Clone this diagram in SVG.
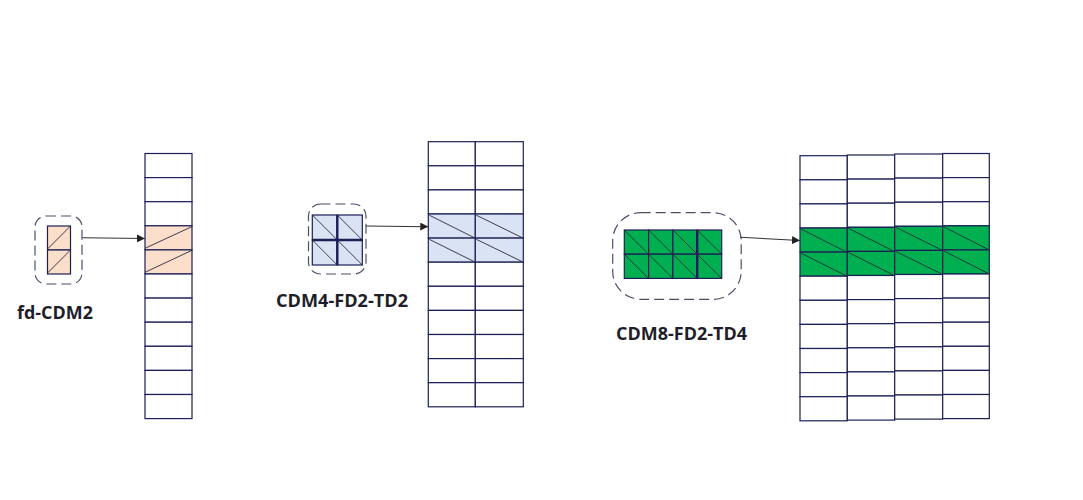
<svg xmlns="http://www.w3.org/2000/svg" width="1083" height="500" viewBox="0 0 1083 500">
<defs>
<style>
.cell{fill:#fff;stroke:#1c1f55;stroke-width:1.2}
.pink{fill:#fbdfcb;stroke:#1c1f55;stroke-width:1.2}
.blue{fill:#dae3f3;stroke:#1c1f55;stroke-width:1.2}
.green{fill:#00b050;stroke:#1c1f55;stroke-width:1.2}
.diag{stroke:#2a2a3a;stroke-width:0.9;fill:none}
.dash{fill:none;stroke:#4b5068;stroke-width:1.2;stroke-dasharray:10 5}
.conn{stroke:#333;stroke-width:1.1;fill:none}
.lbl{font-family:"Open Sans","Noto Sans",sans-serif;font-weight:bold;font-size:17.5px;fill:#1e1e2a}
.thick{stroke:#1c1f55;stroke-width:2.4;fill:none}
</style>
<marker id="arr" viewBox="0 0 10 10" refX="10" refY="5" markerWidth="8" markerHeight="8" markerUnits="userSpaceOnUse" orient="auto">
<path d="M0,0 L10,5 L0,10 z" fill="#222"/>
</marker>
</defs>
<rect width="1083" height="500" fill="#fff"/>

<!-- Node 1: fd-CDM2 small -->
<g id="node-fd-cdm2">
<rect class="dash" x="35" y="216" width="47" height="68" rx="11"/>
<rect class="pink" x="47.5" y="226" width="23" height="24"/>
<rect class="pink" x="47.5" y="250" width="23" height="24"/>
<line class="diag" x1="47.5" y1="249" x2="70.5" y2="226"/>
<line class="diag" x1="47.5" y1="273" x2="70.5" y2="250"/>
<text class="lbl" x="17" y="318.5" textLength="76" lengthAdjust="spacingAndGlyphs">fd-CDM2</text>
</g>

<!-- Column 1 -->
<g id="grid-1">
<rect class="cell" x="145" y="153.5" width="47" height="24.1"/>
<rect class="cell" x="145" y="177.6" width="47" height="24.1"/>
<rect class="cell" x="145" y="201.7" width="47" height="24.1"/>
<rect class="pink" x="145" y="225.8" width="47" height="24.1"/>
<rect class="pink" x="145" y="249.9" width="47" height="24.1"/>
<rect class="cell" x="145" y="274" width="47" height="24.1"/>
<rect class="cell" x="145" y="298.1" width="47" height="24.1"/>
<rect class="cell" x="145" y="322.2" width="47" height="24.1"/>
<rect class="cell" x="145" y="346.3" width="47" height="24.1"/>
<rect class="cell" x="145" y="370.4" width="47" height="24.1"/>
<rect class="cell" x="145" y="394.5" width="47" height="24.1"/>
<line class="diag" x1="145" y1="248.3" x2="192" y2="226.6"/>
<line class="diag" x1="145" y1="272.3" x2="192" y2="250.3"/>
</g>

<!-- Node 2: CDM4-FD2-TD2 small -->
<g id="node-cdm4">
<rect class="dash" x="308.5" y="204" width="57.5" height="70" rx="12"/>
<rect class="blue" x="312.3" y="215" width="25" height="25"/>
<rect class="blue" x="337.3" y="215" width="25" height="25"/>
<rect class="blue" x="312.3" y="240" width="25" height="25"/>
<rect class="blue" x="337.3" y="240" width="25" height="25"/>
<line class="diag" x1="312.3" y1="215" x2="337.3" y2="240"/>
<line class="diag" x1="337.3" y1="215" x2="362.3" y2="240"/>
<line class="diag" x1="312.3" y1="240" x2="337.3" y2="265"/>
<line class="diag" x1="337.3" y1="240" x2="362.3" y2="265"/>
<line class="thick" x1="337.3" y1="215" x2="337.3" y2="265"/>
<line class="thick" x1="312.3" y1="240" x2="362.3" y2="240"/>
<text class="lbl" x="276" y="306.5" textLength="132" lengthAdjust="spacingAndGlyphs">CDM4-FD2-TD2</text>
</g>

<!-- Column 2 -->
<g id="grid-2">
<g transform="translate(428.3,141.7)">
<rect class="cell" x="0" y="0" width="47" height="24.1"/><rect class="cell" x="47" y="0" width="48" height="24.1"/>
<rect class="cell" x="0" y="24.1" width="47" height="24.1"/><rect class="cell" x="47" y="24.1" width="48" height="24.1"/>
<rect class="cell" x="0" y="48.2" width="47" height="24.1"/><rect class="cell" x="47" y="48.2" width="48" height="24.1"/>
<rect class="blue" x="0" y="72.3" width="47" height="24.1"/><rect class="blue" x="47" y="72.3" width="48" height="24.1"/>
<rect class="blue" x="0" y="96.4" width="47" height="24.1"/><rect class="blue" x="47" y="96.4" width="48" height="24.1"/>
<rect class="cell" x="0" y="120.5" width="47" height="24.1"/><rect class="cell" x="47" y="120.5" width="48" height="24.1"/>
<rect class="cell" x="0" y="144.6" width="47" height="24.1"/><rect class="cell" x="47" y="144.6" width="48" height="24.1"/>
<rect class="cell" x="0" y="168.7" width="47" height="24.1"/><rect class="cell" x="47" y="168.7" width="48" height="24.1"/>
<rect class="cell" x="0" y="192.8" width="47" height="24.1"/><rect class="cell" x="47" y="192.8" width="48" height="24.1"/>
<rect class="cell" x="0" y="216.9" width="47" height="24.1"/><rect class="cell" x="47" y="216.9" width="48" height="24.1"/>
<rect class="cell" x="0" y="241" width="47" height="24.1"/><rect class="cell" x="47" y="241" width="48" height="24.1"/>
<line class="diag" x1="1" y1="73.5" x2="46" y2="96"/>
<line class="diag" x1="48" y1="73.5" x2="94" y2="96"/>
<line class="diag" x1="1" y1="97.6" x2="46" y2="120"/>
<line class="diag" x1="48" y1="97.6" x2="94" y2="120"/>
</g>
</g>

<!-- Node 3: CDM8-FD2-TD4 small -->
<g id="node-cdm8">
<rect class="dash" x="612.7" y="212.7" width="128.5" height="86.6" rx="28"/>
<g transform="translate(624.3,230)">
<rect class="green" x="0" y="0" width="24.3" height="24.2"/><rect class="green" x="24.3" y="0" width="24.3" height="24.2"/><rect class="green" x="48.6" y="0" width="24.3" height="24.2"/><rect class="green" x="72.9" y="0" width="24.5" height="24.2"/>
<rect class="green" x="0" y="24.2" width="24.3" height="24.2"/><rect class="green" x="24.3" y="24.2" width="24.3" height="24.2"/><rect class="green" x="48.6" y="24.2" width="24.3" height="24.2"/><rect class="green" x="72.9" y="24.2" width="24.5" height="24.2"/>
<line class="diag" x1="0" y1="0" x2="24.3" y2="24.2"/><line class="diag" x1="24.3" y1="0" x2="48.6" y2="24.2"/><line class="diag" x1="48.6" y1="0" x2="72.9" y2="24.2"/><line class="diag" x1="72.9" y1="0" x2="97.4" y2="24.2"/>
<line class="diag" x1="0" y1="24.2" x2="24.3" y2="48.4"/><line class="diag" x1="24.3" y1="24.2" x2="48.6" y2="48.4"/><line class="diag" x1="48.6" y1="24.2" x2="72.9" y2="48.4"/><line class="diag" x1="72.9" y1="24.2" x2="97.4" y2="48.4"/>
<line class="thick" x1="72.9" y1="0" x2="72.9" y2="48.4" stroke-width="1.8"/>
</g>
<text class="lbl" x="616" y="340" textLength="131" lengthAdjust="spacingAndGlyphs">CDM8-FD2-TD4</text>
</g>

<!-- Column 3 -->
<g id="grid-3">
<g transform="translate(800,155.7)">
<rect class="cell" x="0" y="0" width="47.3" height="24.1"/><rect class="cell" x="0" y="24.1" width="47.3" height="24.1"/><rect class="cell" x="0" y="48.2" width="47.3" height="24.1"/>
<rect class="green" x="0" y="72.3" width="47.3" height="24.1"/><rect class="green" x="0" y="96.4" width="47.3" height="24.1"/>
<rect class="cell" x="0" y="120.5" width="47.3" height="24.1"/><rect class="cell" x="0" y="144.6" width="47.3" height="24.1"/><rect class="cell" x="0" y="168.7" width="47.3" height="24.1"/><rect class="cell" x="0" y="192.8" width="47.3" height="24.1"/><rect class="cell" x="0" y="216.9" width="47.3" height="24.1"/><rect class="cell" x="0" y="241" width="47.3" height="24.1"/>
<line class="diag" x1="1" y1="73.3" x2="46" y2="96"/><line class="diag" x1="1" y1="97.4" x2="46" y2="120"/>
</g>
<g transform="translate(847.3,155)">
<rect class="cell" x="0" y="0" width="47.4" height="24.1"/><rect class="cell" x="0" y="24.1" width="47.4" height="24.1"/><rect class="cell" x="0" y="48.2" width="47.4" height="24.1"/>
<rect class="green" x="0" y="72.3" width="47.4" height="24.1"/><rect class="green" x="0" y="96.4" width="47.4" height="24.1"/>
<rect class="cell" x="0" y="120.5" width="47.4" height="24.1"/><rect class="cell" x="0" y="144.6" width="47.4" height="24.1"/><rect class="cell" x="0" y="168.7" width="47.4" height="24.1"/><rect class="cell" x="0" y="192.8" width="47.4" height="24.1"/><rect class="cell" x="0" y="216.9" width="47.4" height="24.1"/><rect class="cell" x="0" y="241" width="47.4" height="24.1"/>
<line class="diag" x1="1" y1="73.3" x2="46" y2="96"/><line class="diag" x1="1" y1="97.4" x2="46" y2="120"/>
</g>
<g transform="translate(894.7,154)">
<rect class="cell" x="0" y="0" width="48" height="24.1"/><rect class="cell" x="0" y="24.1" width="48" height="24.1"/><rect class="cell" x="0" y="48.2" width="48" height="24.1"/>
<rect class="green" x="0" y="72.3" width="48" height="24.1"/><rect class="green" x="0" y="96.4" width="48" height="24.1"/>
<rect class="cell" x="0" y="120.5" width="48" height="24.1"/><rect class="cell" x="0" y="144.6" width="48" height="24.1"/><rect class="cell" x="0" y="168.7" width="48" height="24.1"/><rect class="cell" x="0" y="192.8" width="48" height="24.1"/><rect class="cell" x="0" y="216.9" width="48" height="24.1"/><rect class="cell" x="0" y="241" width="48" height="24.1"/>
<line class="diag" x1="1" y1="73.3" x2="47" y2="96"/><line class="diag" x1="1" y1="97.4" x2="47" y2="120"/>
</g>
<g transform="translate(942.7,153.5)">
<rect class="cell" x="0" y="0" width="46.6" height="24.1"/><rect class="cell" x="0" y="24.1" width="46.6" height="24.1"/><rect class="cell" x="0" y="48.2" width="46.6" height="24.1"/>
<rect class="green" x="0" y="72.3" width="46.6" height="24.1"/><rect class="green" x="0" y="96.4" width="46.6" height="24.1"/>
<rect class="cell" x="0" y="120.5" width="46.6" height="24.1"/><rect class="cell" x="0" y="144.6" width="46.6" height="24.1"/><rect class="cell" x="0" y="168.7" width="46.6" height="24.1"/><rect class="cell" x="0" y="192.8" width="46.6" height="24.1"/><rect class="cell" x="0" y="216.9" width="46.6" height="24.1"/><rect class="cell" x="0" y="241" width="46.6" height="24.1"/>
<line class="diag" x1="1" y1="73.3" x2="45.6" y2="96"/><line class="diag" x1="1" y1="97.4" x2="45.6" y2="120"/>
</g>
</g>

<!-- Connectors -->
<g id="connectors">
<line class="conn" x1="82.5" y1="237.7" x2="145" y2="238.5" marker-end="url(#arr)"/>
<line class="conn" x1="366" y1="226" x2="428.3" y2="226.7" marker-end="url(#arr)"/>
<line class="conn" x1="740.5" y1="237.3" x2="800" y2="240.5" marker-end="url(#arr)"/>
</g>
</svg>
